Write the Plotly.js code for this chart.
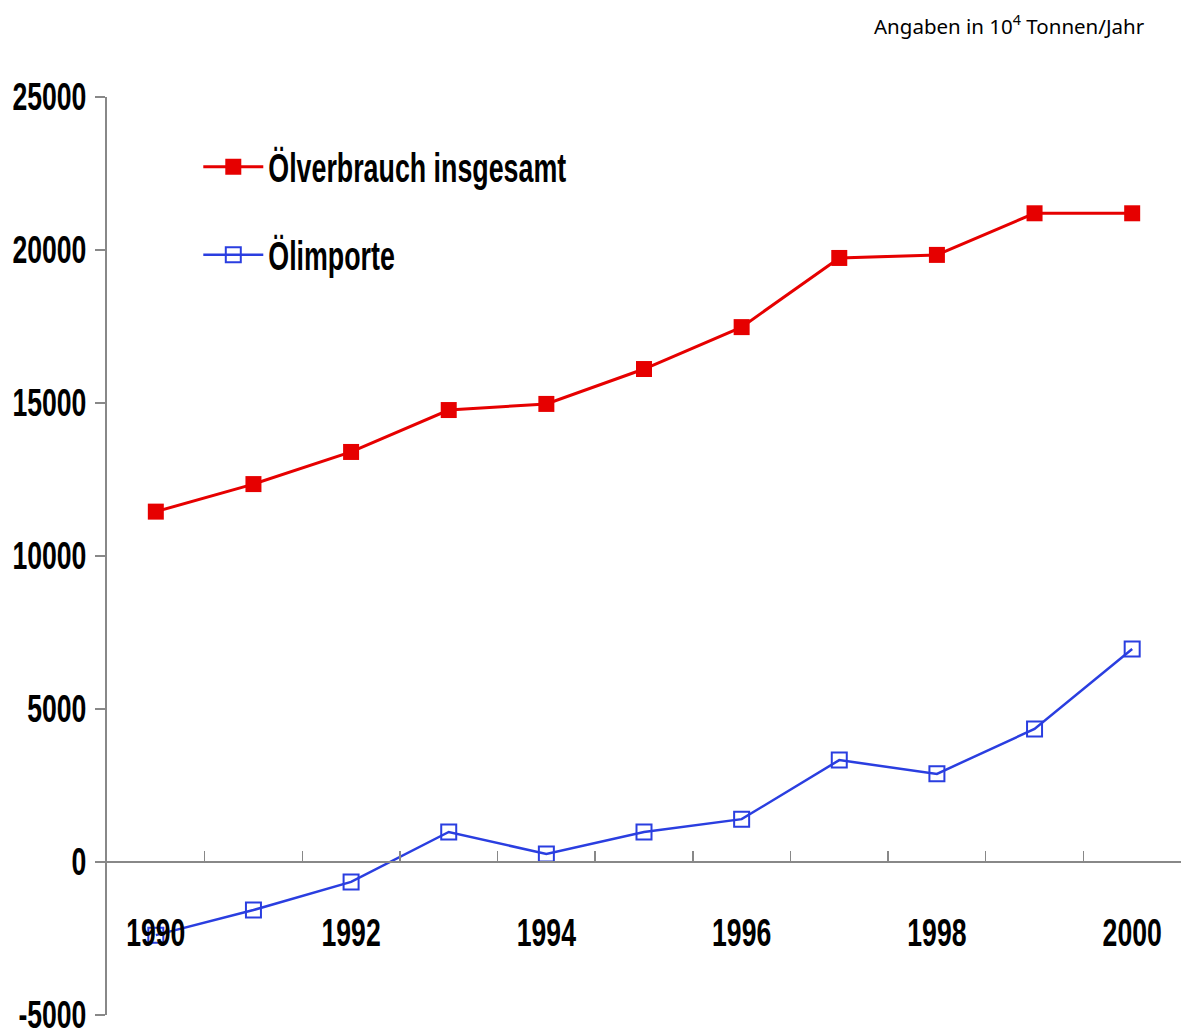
<!DOCTYPE html>
<html>
<head>
<meta charset="utf-8">
<script src="https://cdn.plot.ly/plotly-3.0.1.min.js"></script>
<style>
html,body{margin:0;padding:0;background:#fff;}
#chart{width:1181px;height:1033px;}
</style>
</head>
<body>
<div id="chart"></div>
<script>
var years = [1990,1991,1992,1993,1994,1995,1996,1997,1998,1999,2000];
var verbrauch = [11450,12350,13400,14770,14970,16110,17480,19740,19840,21200,21200];
var importe = [-2390,-1570,-650,980,260,980,1400,3330,2880,4350,6960];
var yTicks = [-5000,0,5000,10000,15000,20000,25000];
var xLabelYears = [1990,1992,1994,1996,1998,2000];
var boundaries = [1989.5,1990.5,1991.5,1992.5,1993.5,1994.5,1995.5,1996.5,1997.5,1998.5,1999.5,2000.5];

var tickFont = {family:'"Liberation Sans", Arial, sans-serif', size:38, color:'#000', weight:'bold'};
var legendFont = {family:'"Liberation Sans", Arial, sans-serif', size:40, color:'#000', weight:'bold'};

var traces = [
  {x: years, y: verbrauch, name: 'Ölverbrauch insgesamt', type:'scatter', mode:'lines+markers', legendgroup:'a',
   line:{color:'#e60000', width:3}, marker:{symbol:'square', size:16, color:'#e60000'}},
  {x: years, y: importe, name: 'Ölimporte', type:'scatter', mode:'lines+markers', legendgroup:'b',
   line:{color:'#2a3ee0', width:2.5}, marker:{symbol:'square-open', size:15, color:'#2a3ee0', line:{width:2}}},
  {x: xLabelYears, y: xLabelYears.map(function(){return null;}), xaxis:'x2', yaxis:'y', showlegend:false, hoverinfo:'skip', type:'scatter'}
];

var layout = {
  width:1181, height:1033,
  margin:{l:107, r:0, t:97, b:18},
  paper_bgcolor:'#fff', plot_bgcolor:'#fff',
  showlegend:true,
  xaxis:{
    type:'linear', range:[1989.5, 2000.5], anchor:'free', position:1/6,
    showline:true, linecolor:'#888', linewidth:2,
    tickvals: boundaries, ticks:'inside', ticklen:10, tickcolor:'#888', tickwidth:1.5,
    showticklabels:false, showgrid:false, zeroline:false
  },
  xaxis2:{
    type:'linear', range:[1989.5, 2000.5], overlaying:'x', anchor:'free', position:0.118,
    showline:false, ticks:'', tickvals: xLabelYears, ticktext: xLabelYears.map(String),
    tickfont: tickFont, showgrid:false, zeroline:false, ticklabeloverflow:'allow'
  },
  yaxis:{
    range:[-5000, 25000], tickvals: yTicks, ticktext: yTicks.map(String),
    showline:true, linecolor:'#888', linewidth:2,
    ticks:'outside', ticklen:10, tickcolor:'#888', tickwidth:1.5,
    tickfont: tickFont, showgrid:false, zeroline:false, ticklabelstandoff:1, ticklabeloverflow:'allow'
  },
  legend:{x:0.085, y:0.876, xanchor:'left', yanchor:'middle', font:legendFont, itemwidth:60,
          tracegroupgap:33, traceorder:'grouped', bgcolor:'rgba(0,0,0,0)'},
  annotations:[
    {text:'Angaben in 10<sup>4</sup> Tonnen/Jahr', xref:'paper', yref:'paper', x:0.968, y:1.078, xanchor:'right', yanchor:'middle',
     showarrow:false, font:{family:'"Noto Sans", sans-serif', size:20.5, color:'#000'}}
  ]
};

function condense(selector, ratio){
  document.querySelectorAll(selector).forEach(function(t){
    if (t.getAttribute('data-condensed')) return;
    var w = t.getComputedTextLength();
    if (w > 0) {
      t.setAttribute('textLength', (w * ratio).toFixed(1));
      t.setAttribute('lengthAdjust', 'spacingAndGlyphs');
      t.setAttribute('data-condensed', '1');
    }
  });
}
function condenseAll(){
  condense('#chart .ytick text', 0.7);
  condense('#chart .x2tick text', 0.7);
  condense('#chart .legendtext', 0.67);
}

var gd = document.getElementById('chart');
Plotly.newPlot(gd, traces, layout, {displayModeBar:false, staticPlot:true}).then(function(){
  condenseAll();
  requestAnimationFrame(condenseAll);
  setTimeout(condenseAll, 50);
});
</script>
</body>
</html>
